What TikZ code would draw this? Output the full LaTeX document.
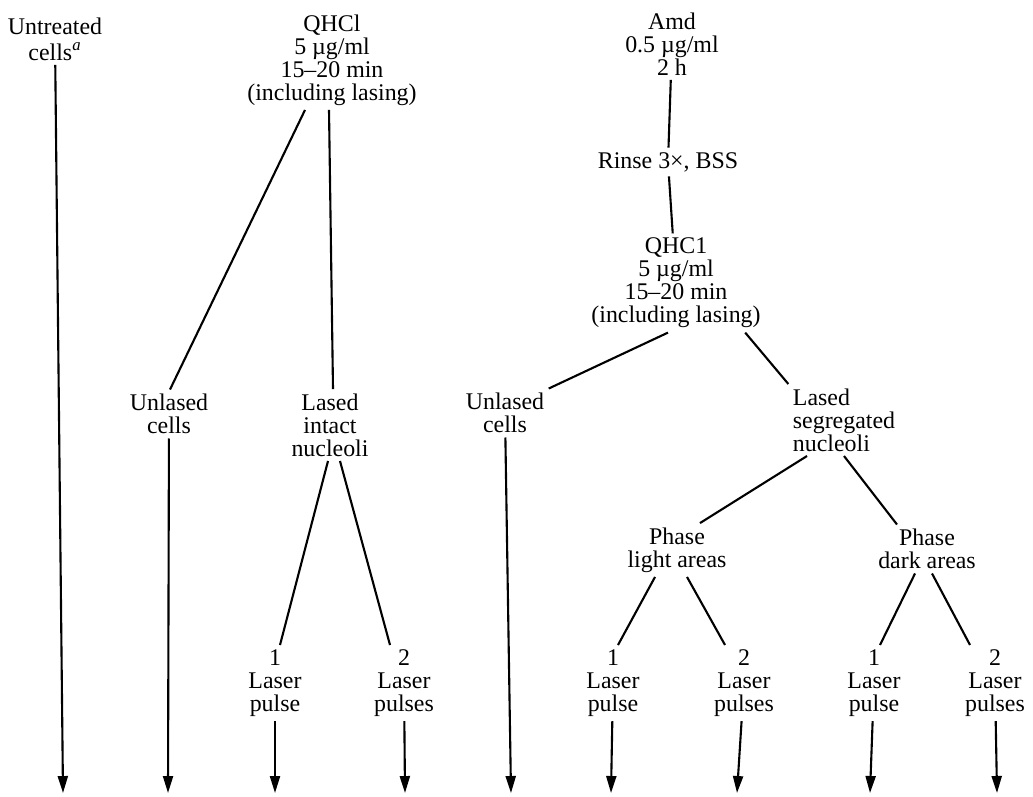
\documentclass[tikz,border=0pt]{standalone}
\usepackage{fontspec}
\setmainfont{Liberation Serif}
\usetikzlibrary{arrows.meta}

\begin{document}
\begin{tikzpicture}[x=0.02cm,y=-0.02cm,line width=1.2pt,
  lbl/.style={align=center,inner sep=2pt,font=\fontsize{13.6}{13.1}\selectfont},
  arr/.style={-{Triangle[length=3.4mm,width=2mm]}}]
\useasboundingbox (0,0) rectangle (1033,796);

% Untreated
\node[lbl] (untr) at (55,39) {Untreated\\[1.5pt]cells\textsuperscript{\itshape a}};
\coordinate (e1) at (63,793);
\draw[arr] (untr) -- (e1);

% QHCl, left tree
\node[lbl] (q1) at (332,60) {QHCl\\5 µg/ml\\15--20 min\\(including lasing)};
\node[lbl] (unl1) at (169,414) {Unlased\\cells};
\node[lbl] (lsi) at (330,425) {Lased\\intact\\nucleoli};
\node[lbl] (lp1) at (275,683) {1\\Laser\\pulse};
\node[lbl] (lp2) at (404,683) {2\\Laser\\pulses};
\draw ([xshift=-0.54cm]q1.south) -- ([xshift=0.02cm]unl1.north);
\draw ([xshift=-0.06cm]q1.south) -- ([xshift=0.06cm]lsi.north);
\draw ([xshift=-0.04cm]lsi.south) -- ([xshift=0.1cm]lp1.north);
\draw ([xshift=0.2cm]lsi.south) -- ([xshift=-0.28cm]lp2.north);
\coordinate (e2) at (168,793);
\coordinate (e3) at (275,793);
\coordinate (e4) at (405,793);
\draw[arr] (unl1) -- (e2);
\draw[arr] (lp1) -- (e3);
\draw[arr] (lp2) -- (e4);

% Amd, right tree
\node[lbl] (amd) at (672,44) {Amd\\0.5 µg/ml\\2 h};
\node[lbl] (rinse) at (668,162) {Rinse 3×, BSS};
\node[lbl] (q2) at (676,283) {QHC1\\5 µg/ml\\15--20 min\\(including lasing)};
\node[lbl] (unl2) at (505,413) {Unlased\\cells};
\node[lbl,align=left] (lss) at (844,420) {Lased\\segregated\\nucleoli};
\node[lbl] (pl) at (677,550) {Phase\\light areas};
\node[lbl] (pd) at (927,549) {Phase\\dark areas};
\node[lbl] (lp3) at (613,683) {1\\Laser\\pulse};
\node[lbl] (lp4) at (744,683) {2\\Laser\\pulses};
\node[lbl] (lp5) at (874,683) {1\\Laser\\pulse};
\node[lbl] (lp6) at (995,683) {2\\Laser\\pulses};
\draw (amd) -- (rinse);
\draw (rinse) -- (q2);
\draw ([xshift=-0.16cm]q2.south) -- (unl2.north east);
\draw ([xshift=-0.4cm]q2.south east) -- (lss.north west);
\draw ([xshift=-0.74cm]lss.south) -- ([xshift=0.46cm]pl.north);
\draw (lss.south) -- ([xshift=-0.6cm]pd.north);
\draw ([xshift=-0.44cm]pl.south) -- ([xshift=0.1cm]lp3.north);
\draw ([xshift=0.2cm]pl.south) -- ([xshift=-0.38cm]lp4.north);
\draw ([xshift=-0.24cm]pd.south) -- ([xshift=0.12cm]lp5.north);
\draw ([xshift=0.1cm]pd.south) -- ([xshift=-0.5cm]lp6.north);
\coordinate (e5) at (511,793);
\coordinate (e6) at (611,793);
\coordinate (e7) at (737,793);
\coordinate (e8) at (870,793);
\coordinate (e9) at (997,793);
\draw[arr] (unl2) -- (e5);
\draw[arr] (lp3) -- (e6);
\draw[arr] (lp4) -- (e7);
\draw[arr] (lp5) -- (e8);
\draw[arr] (lp6) -- (e9);
\end{tikzpicture}
\end{document}
